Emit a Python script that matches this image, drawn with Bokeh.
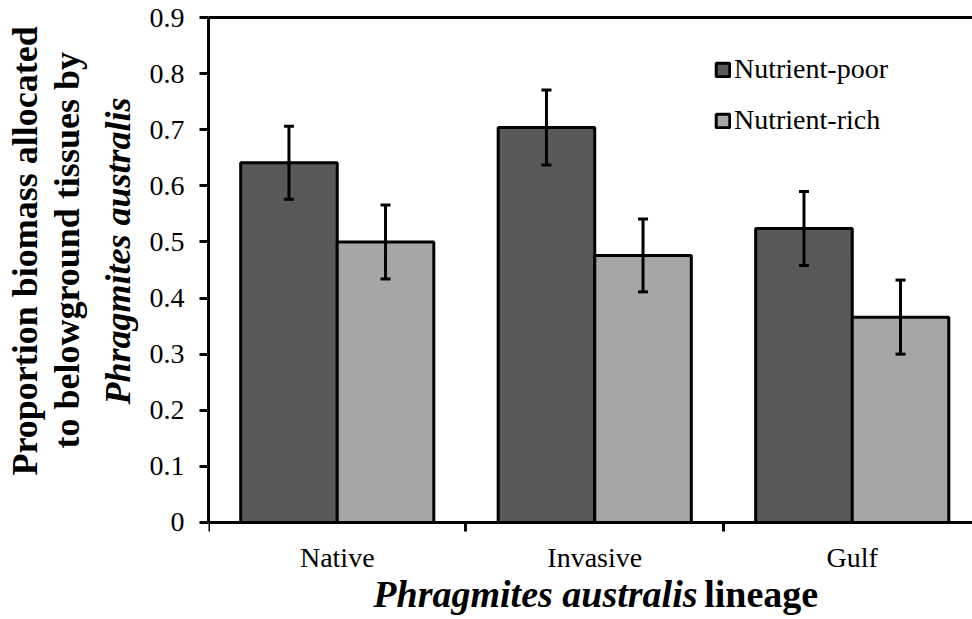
from bokeh.plotting import figure
from bokeh.models import (ColumnDataSource, Range1d, FixedTicker, LinearAxis, Whisker,
                          TeeHead, Label, Legend, LegendItem, NumeralTickFormatter, Title)
from bokeh.embed import file_html
from bokeh.resources import INLINE

# ---- data ----
lineages = ["Native", "Invasive", "Gulf"]
series_names = ["Nutrient-poor", "Nutrient-rich"]
poor_mean = [0.641, 0.704, 0.524]
poor_se = [0.065, 0.067, 0.066]
rich_mean = [0.500, 0.476, 0.366]
rich_se = [0.066, 0.065, 0.066]
y_ticks = [0, 0.1, 0.2, 0.3, 0.4, 0.5, 0.6, 0.7, 0.8, 0.9]
y_title_lines = ["Proportion biomass allocated", "to belowground tissues by", "Phragmites australis"]
x_title_italic = "Phragmites australis"
x_title_plain = "lineage"

FONT = "Liberation Serif"
BAR_W = 0.375
idx = list(range(len(lineages)))
poor_x = [i + 0.5 - BAR_W / 2 for i in idx]
rich_x = [i + 0.5 + BAR_W / 2 for i in idx]

src_poor = ColumnDataSource(dict(
    x=poor_x, top=poor_mean,
    upper=[m + e for m, e in zip(poor_mean, poor_se)],
    lower=[m - e for m, e in zip(poor_mean, poor_se)]))
src_rich = ColumnDataSource(dict(
    x=rich_x, top=rich_mean,
    upper=[m + e for m, e in zip(rich_mean, rich_se)],
    lower=[m - e for m, e in zip(rich_mean, rich_se)]))

# frame spans from the 0.9 line down to the bottom of the canvas; the
# region below zero holds the category labels and the axis title
p = figure(width=972, height=619, x_range=Range1d(0, 2.967), y_range=Range1d(-0.1729, 0.9),
           title=None, output_backend="svg", toolbar_location=None,
           min_border_left=208, min_border_right=0, min_border_top=17, min_border_bottom=0)
p.outline_line_color = None
p.xgrid.visible = False
p.ygrid.visible = False
p.background_fill_color = "white"
p.border_fill_color = "white"

r1 = p.vbar(x="x", top="top", bottom=0, width=BAR_W, source=src_poor,
            fill_color="#595959", line_color="black", line_width=3)
r2 = p.vbar(x="x", top="top", bottom=0, width=BAR_W, source=src_rich,
            fill_color="#a6a6a6", line_color="black", line_width=3)

for src in (src_poor, src_rich):
    p.add_layout(Whisker(base="x", upper="upper", lower="lower", source=src, level="overlay",
                         line_width=3, line_color="black",
                         upper_head=TeeHead(size=10, line_width=3, line_color="black"),
                         lower_head=TeeHead(size=10, line_width=3, line_color="black")))

# y axis
yax = p.yaxis[0]
yax.ticker = FixedTicker(ticks=y_ticks)
yax.bounds = (0, 0.9)
yax.formatter = NumeralTickFormatter(format="0.[0]")
yax.axis_line_width = 3
yax.axis_line_color = "black"
yax.major_tick_line_width = 3
yax.major_tick_line_color = "black"
yax.major_tick_out = 9
yax.major_tick_in = 0
yax.minor_tick_line_color = None
yax.major_label_text_font = FONT
yax.major_label_text_font_size = "28px"
yax.major_label_text_color = "black"
yax.major_label_standoff = 15

# x axis, drawn at y = 0
xax = p.xaxis[0]
xax.fixed_location = 0
xax.ticker = FixedTicker(ticks=[i + 0.5 for i in idx], minor_ticks=[0, 1, 2, 3])
xax.major_label_overrides = {i + 0.5: name for i, name in zip(idx, lineages)}
xax.axis_line_width = 3
xax.axis_line_color = "black"
xax.major_tick_line_color = None
xax.major_tick_out = 0
xax.major_tick_in = 0
xax.minor_tick_line_color = "black"
xax.minor_tick_line_width = 3
xax.minor_tick_out = 9
xax.minor_tick_in = 0
xax.major_label_text_font = FONT
xax.major_label_text_font_size = "28px"
xax.major_label_text_color = "black"
xax.major_label_standoff = 11

# top border line
top_ax = LinearAxis(ticker=FixedTicker(ticks=[]), axis_line_width=3, axis_line_color="black",
                    major_tick_out=0, major_tick_in=0, minor_tick_out=0, minor_tick_in=0,
                    major_label_standoff=0)
p.add_layout(top_ax, "above")

# y title: three stacked titles (innermost first)
y_title_style = ["bold", "bold", "bold italic"]
y_title_offset = [144, 171, 215]
y_title_standoff = [0, 0, 18]
for k in (2, 1, 0):
    p.add_layout(Title(text=y_title_lines[k], align="left", offset=y_title_offset[k],
                       standoff=y_title_standoff[k], text_font=FONT,
                       text_font_style=y_title_style[k], text_font_size="36px",
                       text_color="black"), "left")

# x title (mixed italic / upright)
p.add_layout(Label(x=1.899, y=-0.1283, text=x_title_italic, text_align="right",
                   text_baseline="middle", text_font=FONT, text_font_style="bold italic",
                   text_font_size="38px", text_color="black"))
p.add_layout(Label(x=1.925, y=-0.1283, text=x_title_plain, text_align="left",
                   text_baseline="middle", text_font=FONT, text_font_style="bold",
                   text_font_size="38px", text_color="black"))

legend = Legend(items=[LegendItem(label=series_names[0], renderers=[r1]),
                       LegendItem(label=series_names[1], renderers=[r2])],
                location=(506, 483), padding=0, margin=0, spacing=19,
                glyph_width=17, glyph_height=17, label_height=32, label_standoff=3,
                label_text_font=FONT, label_text_font_size="28px", label_text_color="black",
                border_line_color=None, background_fill_alpha=0)
p.add_layout(legend)

open("out.html", "w").write(file_html(p, INLINE))
